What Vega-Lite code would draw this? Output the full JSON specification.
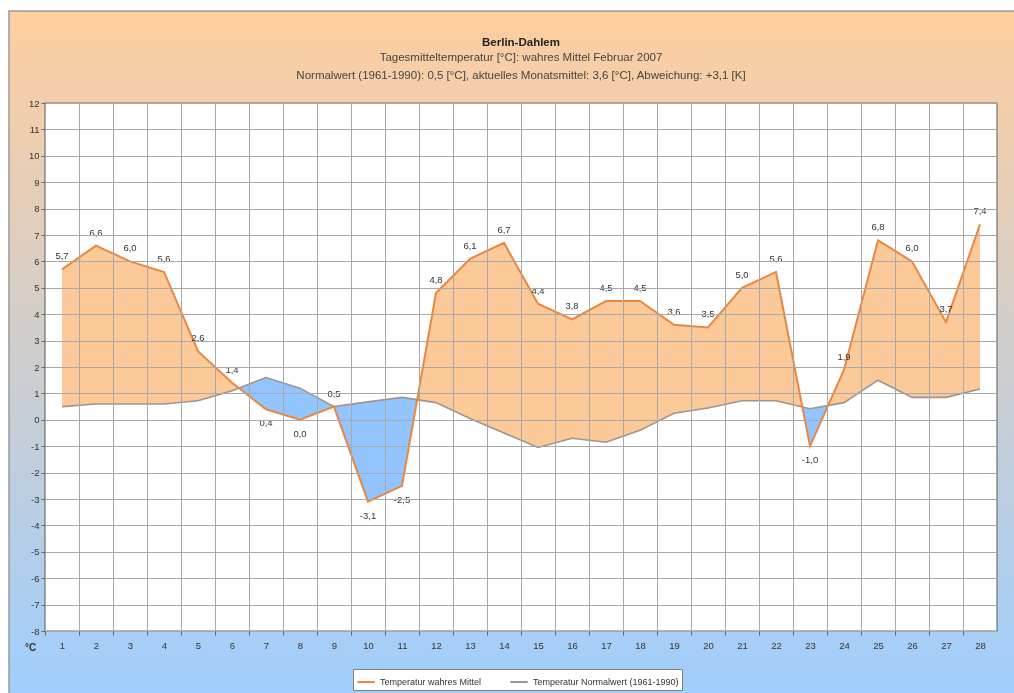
{
  "$schema": "https://vega.github.io/schema/vega-lite/v6.json",
  "width": 952,
  "height": 528,
  "autosize": {"type": "none"},
  "padding": {"left": 45, "top": 103, "right": 17, "bottom": 62},
  "background": "white",
  "config": {
    "font": "Liberation Sans",
    "view": {"stroke": null},
    "locale": {"number": {"decimal": ",", "thousands": ".", "grouping": [3], "currency": ["", " €"], "minus": "-"}},
    "title": {"fontSize": 11.5, "fontWeight": "bold", "color": "#222", "subtitleFontSize": 11.5, "subtitleColor": "#444", "subtitleLineHeight": 17.5, "subtitlePadding": 4}
  },
  "title": {
    "text": "Berlin-Dahlem",
    "subtitle": ["Tagesmitteltemperatur [°C]: wahres Mittel Februar 2007", "Normalwert (1961-1990): 0,5 [°C], aktuelles Monatsmittel: 3,6 [°C], Abweichung: +3,1 [K]"],
    "anchor": "middle",
    "frame": "group",
    "offset": -71
  },
  "data": {"values": [
    {"day": 1, "temp": 5.7, "normal": 0.5},
    {"day": 2, "temp": 6.6, "normal": 0.6},
    {"day": 3, "temp": 6.0, "normal": 0.6},
    {"day": 4, "temp": 5.6, "normal": 0.6},
    {"day": 5, "temp": 2.6, "normal": 0.72},
    {"day": 6, "temp": 1.4, "normal": 1.1},
    {"day": 7, "temp": 0.4, "normal": 1.6},
    {"day": 8, "temp": 0.0, "normal": 1.2},
    {"day": 9, "temp": 0.5, "normal": 0.5},
    {"day": 10, "temp": -3.1, "normal": 0.68},
    {"day": 11, "temp": -2.5, "normal": 0.85},
    {"day": 12, "temp": 4.8, "normal": 0.65},
    {"day": 13, "temp": 6.1, "normal": 0.05},
    {"day": 14, "temp": 6.7, "normal": -0.5},
    {"day": 15, "temp": 4.4, "normal": -1.05},
    {"day": 16, "temp": 3.8, "normal": -0.7},
    {"day": 17, "temp": 4.5, "normal": -0.85},
    {"day": 18, "temp": 4.5, "normal": -0.4},
    {"day": 19, "temp": 3.6, "normal": 0.25},
    {"day": 20, "temp": 3.5, "normal": 0.45},
    {"day": 21, "temp": 5.0, "normal": 0.72},
    {"day": 22, "temp": 5.6, "normal": 0.72},
    {"day": 23, "temp": -1.0, "normal": 0.42},
    {"day": 24, "temp": 1.9, "normal": 0.65},
    {"day": 25, "temp": 6.8, "normal": 1.5},
    {"day": 26, "temp": 6.0, "normal": 0.85},
    {"day": 27, "temp": 3.7, "normal": 0.85},
    {"day": 28, "temp": 7.4, "normal": 1.17}
  ]},
  "layer": [
    {
      "data": {"values": [{}]},
      "mark": {"type": "rect", "fill": {"gradient": "linear", "x1": 0, "y1": 0, "x2": 0, "y2": 1, "stops": [{"offset": 0, "color": "#FFCE9E"}, {"offset": 1, "color": "#9ECEFF"}]}, "stroke": "#9a9a9a", "strokeWidth": 1.5},
      "encoding": {
        "x": {"datum": -0.559, "type": "quantitative", "scale": {"domain": [0.5, 28.5], "nice": false, "zero": false},
          "axis": {"values": [0.5, 1.5, 2.5, 3.5, 4.5, 5.5, 6.5, 7.5, 8.5, 9.5, 10.5, 11.5, 12.5, 13.5, 14.5, 15.5, 16.5, 17.5, 18.5, 19.5, 20.5, 21.5, 22.5, 23.5, 24.5, 25.5, 26.5, 27.5],
            "tickCount": 40,
            "labelExpr": "datum.value + 0.5", "labelOffset": 17, "labelFlush": false, "labelOverlap": false,
            "grid": true, "gridColor": "#a8a8a8", "gridWidth": 1, "tickSize": 4, "tickColor": "#666",
            "labelPadding": 5, "labelFontSize": 9.5, "labelColor": "#333", "domain": false, "title": null, "zindex": 1}},
        "x2": {"datum": 29.3},
        "y": {"datum": 15.485, "type": "quantitative", "scale": {"domain": [-8, 12], "nice": false, "zero": false},
          "axis": {"values": [-8, -7, -6, -5, -4, -3, -2, -1, 0, 1, 2, 3, 4, 5, 6, 7, 8, 9, 10, 11, 12],
            "tickCount": 40, "labelOverlap": false, "format": "d",
            "grid": true, "gridColor": "#a8a8a8", "gridWidth": 1, "tickSize": 4, "tickColor": "#666",
            "labelPadding": 2, "labelFontSize": 9.5, "labelColor": "#333", "domain": false, "zindex": 1,
            "title": "°C", "titleAngle": 0, "titleX": -15, "titleY": 544, "titleAlign": "center", "titleBaseline": "middle",
            "titleFontSize": 10, "titleFontWeight": "bold", "titleColor": "#333"}},
        "y2": {"datum": -10.8}
      }
    },
    {
      "data": {"values": [{}]},
      "mark": {"type": "rect", "fill": "white", "stroke": "#707070", "strokeWidth": 1.2},
      "encoding": {
        "x": {"datum": 0.5, "type": "quantitative", "scale": {"domain": [0.5, 28.5], "nice": false, "zero": false}},
        "x2": {"datum": 28.5},
        "y": {"datum": -8, "type": "quantitative", "scale": {"domain": [-8, 12], "nice": false, "zero": false}},
        "y2": {"datum": 12}
      }
    },
    {
      "mark": {"type": "area", "fill": "#FCC998", "interpolate": "linear"},
      "encoding": {
        "x": {"field": "day", "type": "quantitative", "scale": {"domain": [0.5, 28.5], "nice": false, "zero": false}},
        "y": {"field": "temp", "type": "quantitative", "scale": {"domain": [-8, 12], "nice": false, "zero": false}},
        "y2": {"field": "normal"}
      }
    },
    {
      "mark": {"type": "area", "fill": "#8CC4FF", "blend": "color"},
      "encoding": {
        "x": {"field": "day", "type": "quantitative", "scale": {"domain": [0.5, 28.5], "nice": false, "zero": false}},
        "y": {"field": "normal", "type": "quantitative", "scale": {"domain": [-8, 12], "nice": false, "zero": false}},
        "y2": {"datum": -7.85}
      }
    },
    {
      "mark": {"type": "area", "fill": "#ABA3C0", "blend": "color-burn"},
      "encoding": {
        "x": {"field": "day", "type": "quantitative", "scale": {"domain": [0.5, 28.5], "nice": false, "zero": false}},
        "y": {"field": "normal", "type": "quantitative", "scale": {"domain": [-8, 12], "nice": false, "zero": false}},
        "y2": {"datum": -7.85}
      }
    },
    {
      "mark": {"type": "line", "strokeWidth": 1.6},
      "encoding": {
        "x": {"field": "day", "type": "quantitative", "scale": {"domain": [0.5, 28.5], "nice": false, "zero": false}},
        "y": {"field": "normal", "type": "quantitative", "scale": {"domain": [-8, 12], "nice": false, "zero": false}},
        "color": {"datum": "Temperatur Normalwert (1961-1990)", "type": "nominal",
          "scale": {"domain": ["Temperatur wahres Mittel", "Temperatur Normalwert (1961-1990)"], "range": ["#EB8640", "#9D958E"]},
          "legend": {"orient": "none", "legendX": 308, "legendY": 566, "direction": "horizontal", "title": null,
            "fillColor": "white", "strokeColor": "#808080", "padding": 3, "symbolType": "stroke", "symbolStrokeWidth": 2,
            "symbolSize": 300, "labelFontSize": 9, "labelColor": "#333", "columnPadding": 24}}
      }
    },
    {
      "mark": {"type": "line", "strokeWidth": 2},
      "encoding": {
        "x": {"field": "day", "type": "quantitative", "scale": {"domain": [0.5, 28.5], "nice": false, "zero": false}},
        "y": {"field": "temp", "type": "quantitative", "scale": {"domain": [-8, 12], "nice": false, "zero": false}},
        "color": {"datum": "Temperatur wahres Mittel", "type": "nominal"}
      }
    },
    {
      "transform": [{"filter": "datum.temp >= datum.normal"}],
      "mark": {"type": "text", "dy": -13, "fontSize": 9.5, "color": "#333", "baseline": "middle"},
      "encoding": {
        "x": {"field": "day", "type": "quantitative", "scale": {"domain": [0.5, 28.5], "nice": false, "zero": false}},
        "y": {"field": "temp", "type": "quantitative", "scale": {"domain": [-8, 12], "nice": false, "zero": false}},
        "text": {"field": "temp", "type": "quantitative", "format": ".1f"}
      }
    },
    {
      "transform": [{"filter": "datum.temp < datum.normal"}],
      "mark": {"type": "text", "dy": 14, "fontSize": 9.5, "color": "#333", "baseline": "middle"},
      "encoding": {
        "x": {"field": "day", "type": "quantitative", "scale": {"domain": [0.5, 28.5], "nice": false, "zero": false}},
        "y": {"field": "temp", "type": "quantitative", "scale": {"domain": [-8, 12], "nice": false, "zero": false}},
        "text": {"field": "temp", "type": "quantitative", "format": ".1f"}
      }
    }
  ]
}
